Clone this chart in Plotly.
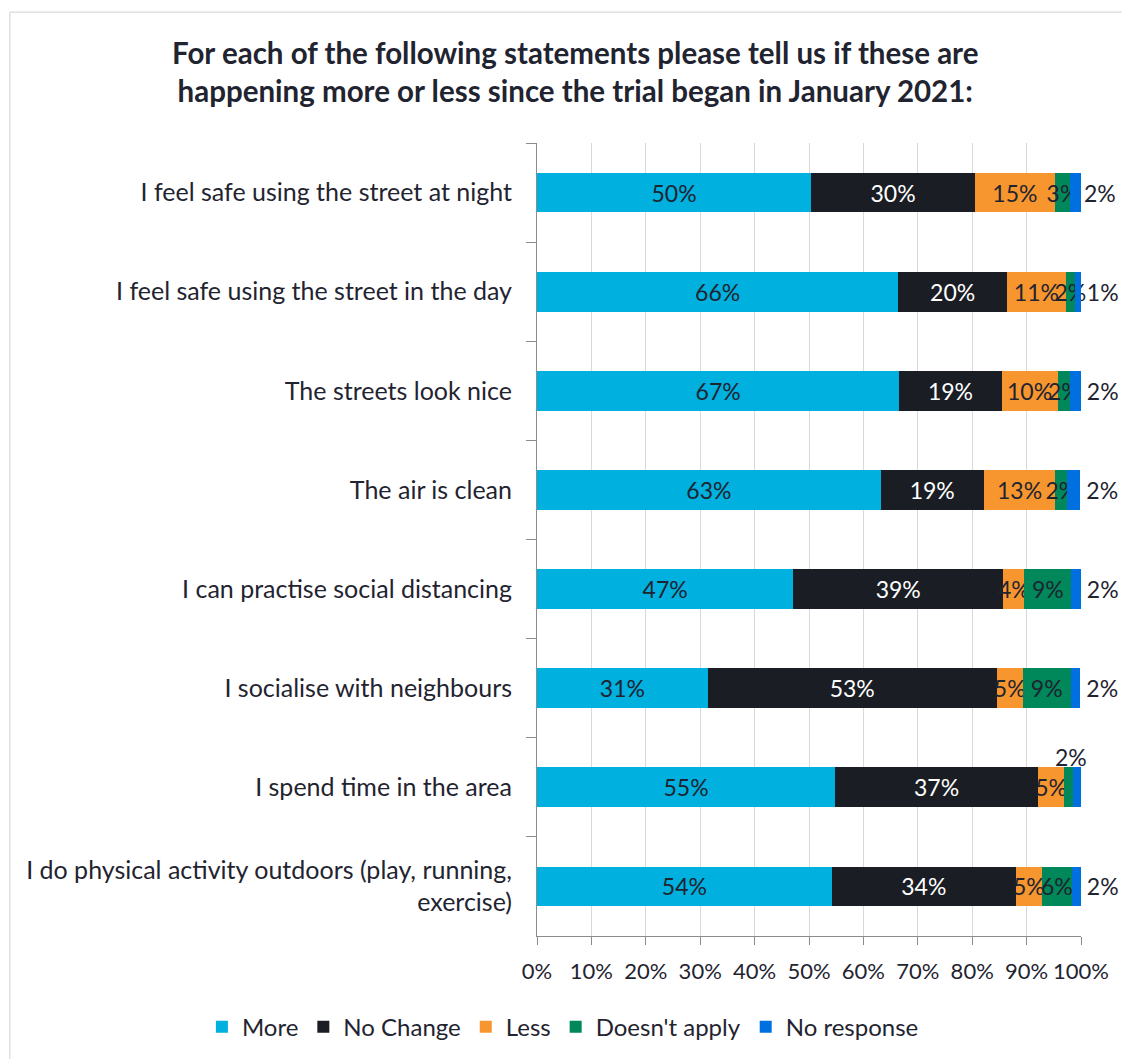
import plotly.graph_objects as go

# statements (top to bottom)
statements = [
    "I feel safe using the street at night",
    "I feel safe using the street in the day",
    "The streets look nice",
    "The air is clean",
    "I can practise social distancing",
    "I socialise with neighbours",
    "I spend time in the area",
    "I do physical activity outdoors (play, running,<br>exercise)",
]

more = [50.4, 66.4, 66.6, 63.2, 47.1, 31.4, 54.8, 54.2]
no_change = [30.1, 20.0, 18.8, 18.9, 38.6, 53.1, 37.3, 33.8]
less = [14.7, 10.8, 10.3, 13.2, 3.9, 4.8, 4.8, 4.8]
doesnt_apply = [2.8, 1.7, 2.3, 2.2, 8.6, 8.8, 1.6, 5.5]
no_response = [2.0, 1.1, 2.0, 2.4, 1.8, 1.8, 1.7, 1.7]

series = [
    ("More", more, "#00B0DE", "#1F2430"),
    ("No Change", no_change, "#1A1D24", "#FFFFFF"),
    ("Less", less, "#F7962F", "#1F2430"),
    ("Doesn't apply", doesnt_apply, "#00875A", "#1F2430"),
    ("No response", no_response, "#0070E0", "#1F2430"),
]

FONT = "Lato"
TXT = "#1F2430"
fig = go.Figure()

for name, vals, color, tcol in series:
    labels = [f"{v:.0f}%" for v in vals]
    if name == "Doesn't apply":
        # this label is drawn above the bar instead
        labels[6] = ""
    if name == "No response":
        # labels pushed a bit away from the bar end
        labels = [labels[0]] + ["\u2009" + s for s in labels[1:]]
    fig.add_trace(go.Bar(
        y=statements, x=vals, name=name, orientation="h",
        marker=dict(color=color, line=dict(width=0)),
        text=labels,
        textposition="outside" if name == "No response" else "inside",
        insidetextanchor="middle", textangle=0,
        textfont=dict(family=FONT, size=23, color=tcol),
        cliponaxis=False,
    ))

# relocated label for "I spend time in the area"
i = 6
fig.add_annotation(
    x=more[i] + no_change[i] + less[i] + doesnt_apply[i] / 2, y=statements[i],
    text=f"{doesnt_apply[i]:.0f}%", showarrow=False, yshift=30, xshift=3,
    font=dict(family=FONT, size=23, color=TXT),
)

fig.update_layout(
    width=1130, height=1059,
    barmode="stack", bargap=0.6,
    plot_bgcolor="white", paper_bgcolor="white",
    margin=dict(l=529, r=57, t=135, b=131),
    font=dict(family=FONT, color=TXT, size=22),
    uniformtext=dict(minsize=23, mode="show"),
    title=dict(
        text="<b>For each of the following statements please tell us if these are<br>happening more or less since the trial began in January 2021:</b>",
        x=0.502, xanchor="center", y=0.9475, yanchor="middle",
        font=dict(family=FONT, size=29.5, color=TXT),
    ),
    legend=dict(
        orientation="h", x=-0.616, xanchor="left",
        y=-0.115, yanchor="middle",
        font=dict(family=FONT, size=24), traceorder="normal",
        itemwidth=30,
    ),
    showlegend=True,
)

fig.update_xaxes(
    range=[0, 100], dtick=10, ticksuffix="%",
    showgrid=True, gridcolor="#D9D9D9", gridwidth=1,
    showline=True, linecolor="#8C8C8C", linewidth=1,
    ticks="outside", ticklen=8, tickcolor="#8C8C8C",
    tickfont=dict(family=FONT, size=22), zeroline=False,
    ticklabelstandoff=8,
)
fig.update_yaxes(
    autorange="reversed", showline=True, linecolor="#8C8C8C", linewidth=1,
    ticks="outside", ticklen=10, tickcolor="#8C8C8C", tickson="boundaries",
    tickfont=dict(family=FONT, size=25), ticklabelstandoff=19,
)

# chart frame
fig.add_shape(type="line", xref="paper", yref="paper",
              x0=-0.969, x1=1.2, y0=1.165, y1=1.165,
              line=dict(color="#D0D0D0", width=1))
fig.add_shape(type="line", xref="paper", yref="paper",
              x0=-0.969, x1=-0.969, y0=1.165, y1=-0.2,
              line=dict(color="#D0D0D0", width=1))

fig.write_html("out.html")
